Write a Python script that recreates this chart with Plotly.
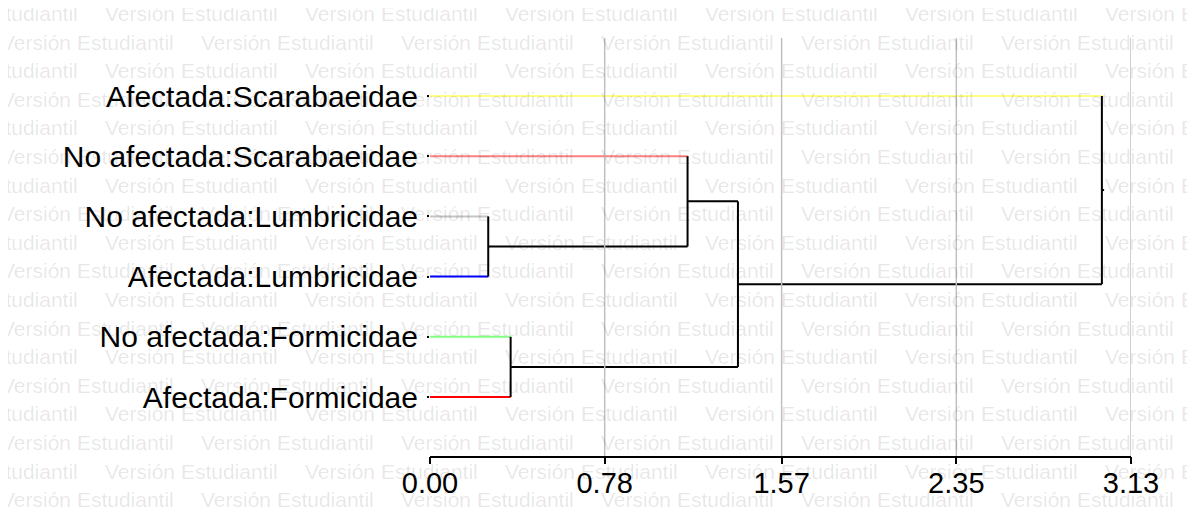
import plotly.graph_objects as go

# ---------------- data ----------------
leaf_labels = [
    "Afectada:Scarabaeidae",
    "No afectada:Scarabaeidae",
    "No afectada:Lumbricidae",
    "Afectada:Lumbricidae",
    "No afectada:Formicidae",
    "Afectada:Formicidae",
]
leaf_colors = ["#ffff80", "#ff8080", "#c4c4c4", "#0000ff", "#80ff80", "#ff0000"]

# merges: (child_a, child_b, height); new node ids start at len(leaf_labels)
merge_a = [2, 4, 1, 8, 0]
merge_b = [3, 5, 6, 7, 9]
merge_h = [0.26, 0.36, 1.15, 1.375, 3.00]

x_ticks = [0.00, 0.78, 1.57, 2.35, 3.13]
watermark = "Versión Estudiantil"

# ---------------- layout constants (window pixels) ----------------
WIN_W, WIN_H = 1195, 514
OFF = 8                      # default page margin of the html body
W, H = WIN_W - OFF, WIN_H - OFF
PLOT_L, PLOT_R, PLOT_T, PLOT_B = 430, 1131, 38, 456   # window pixels
ML, MR, MT, MB = PLOT_L - OFF, WIN_W - PLOT_R, PLOT_T - OFF, WIN_H - PLOT_B
X_RANGE = [0.0, 3.13]
LEAF_PX0, LEAF_STEP = 96.0, 60.2
Y_TOP = (PLOT_T - LEAF_PX0) / LEAF_STEP
Y_BOT = (PLOT_B - LEAF_PX0) / LEAF_STEP


def px_to_paper_x(px):
    return (px - PLOT_L) / (PLOT_R - PLOT_L)


def py_to_paper_y(py):
    return (PLOT_B - py) / (PLOT_B - PLOT_T)


fig = go.Figure()

# ---------------- grid lines (except at 0), on the tick-mark axis ----------------
gx, gy = [], []
for t in x_ticks[1:]:
    gx += [t, t, None]
    gy += [Y_TOP, Y_BOT, None]
fig.add_trace(go.Scatter(
    x=gx, y=gy, mode="lines", line=dict(color="#c0c0c0", width=1.5),
    hoverinfo="skip", showlegend=False, xaxis="x2", yaxis="y",
))

# ---------------- dendrogram ----------------
n_leaf = len(leaf_labels)
node_y = {i: float(i) for i in range(n_leaf)}
node_x = {i: 0.0 for i in range(n_leaf)}

black_x, black_y = [], []
for j, (a, b, h) in enumerate(zip(merge_a, merge_b, merge_h)):
    nid = n_leaf + j
    for c in (a, b):
        if c < n_leaf:
            fig.add_trace(go.Scatter(
                x=[node_x[c], h], y=[node_y[c], node_y[c]], mode="lines",
                line=dict(color=leaf_colors[c], width=2),
                hoverinfo="skip", showlegend=False,
            ))
        else:
            black_x += [node_x[c], h, None]
            black_y += [node_y[c], node_y[c], None]
    black_x += [h, h, None]
    black_y += [node_y[a], node_y[b], None]
    node_y[nid] = (node_y[a] + node_y[b]) / 2
    node_x[nid] = h

root = n_leaf + len(merge_h) - 1
black_x += [node_x[root], node_x[root] + 0.01, None]
black_y += [node_y[root], node_y[root], None]

fig.add_trace(go.Scatter(
    x=black_x, y=black_y, mode="lines", line=dict(color="#000000", width=2),
    hoverinfo="skip", showlegend=False,
))

# ---------------- watermark (translucent so marks show through) ----------------
annotations = []
for k in range(18):
    yc = 13.5 + 28.6 * k
    starts = [-97 + 200 * n for n in range(7)] if k % 2 == 0 else [-1 + 200 * n for n in range(6)]
    for s in starts:
        annotations.append(dict(
            x=px_to_paper_x(s), y=py_to_paper_y(yc), xref="paper", yref="paper",
            text=watermark, showarrow=False, xanchor="left", yanchor="middle",
            font=dict(family="Liberation Sans, Arial, sans-serif", size=21,
                      color="rgba(0,0,0,0.1)"),
        ))

# ---------------- axes ----------------
fig.update_layout(
    width=W, height=H,
    margin=dict(l=ML, r=MR, t=MT, b=MB, pad=0),
    paper_bgcolor="white", plot_bgcolor="white",
    font=dict(family="Liberation Sans, Arial, sans-serif", color="black"),
    showlegend=False,
    annotations=annotations,
    xaxis=dict(
        range=X_RANGE, tickvals=x_ticks, ticktext=[f"{v:.2f}" for v in x_ticks],
        showgrid=False, zeroline=False, showline=True, linecolor="black", linewidth=2,
        ticks="", tickfont=dict(size=29, color="black"), fixedrange=True,
    ),
    xaxis2=dict(
        range=X_RANGE, tickvals=x_ticks, overlaying="x", anchor="y", side="bottom",
        showticklabels=False, showgrid=False, zeroline=False, showline=False,
        ticks="outside", ticklen=7, tickwidth=2, tickcolor="black", fixedrange=True,
    ),
    yaxis=dict(
        range=[Y_BOT, Y_TOP], tickvals=list(range(n_leaf)), ticktext=leaf_labels,
        showgrid=False, zeroline=False, showline=False,
        ticks="outside", ticklen=2, tickwidth=2, tickcolor="black",
        ticklabelstandoff=3,
        tickfont=dict(size=30, color="black"), fixedrange=True,
    ),
)

fig.write_html("out.html")
